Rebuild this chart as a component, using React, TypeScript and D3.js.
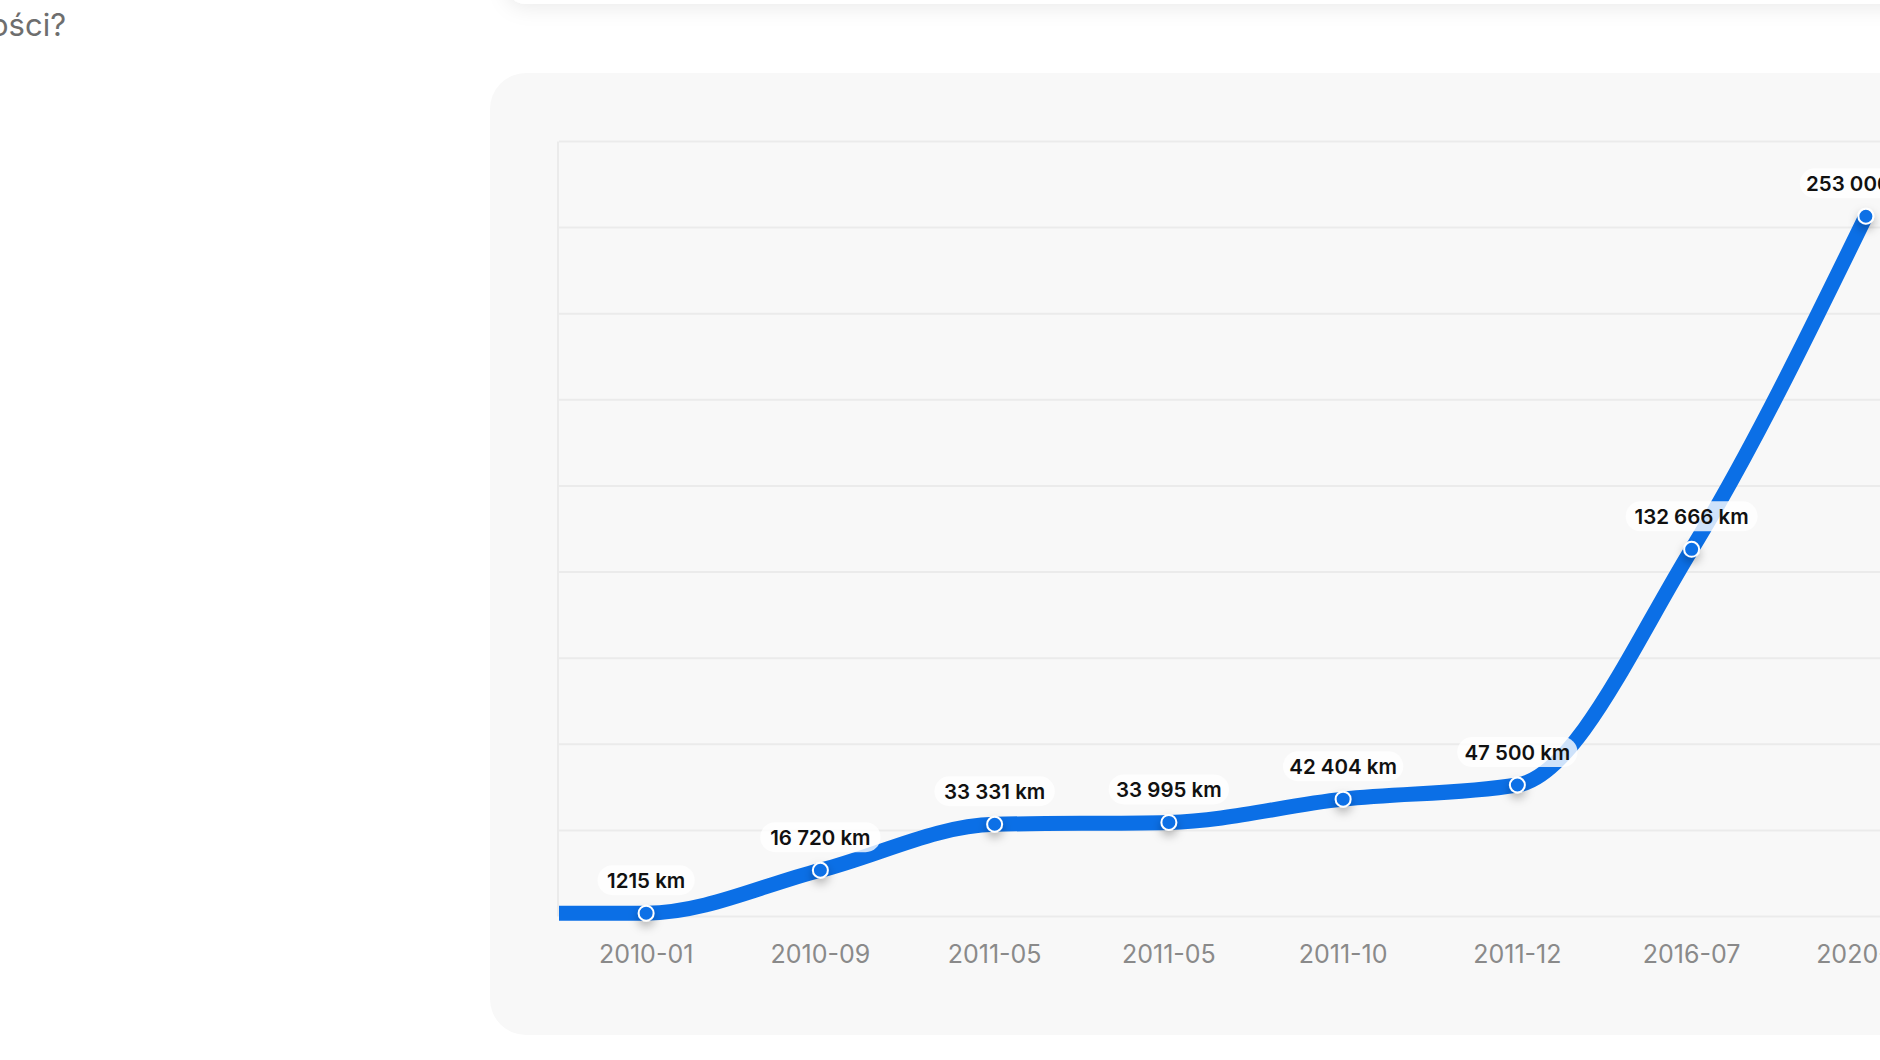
import { scaleBand, scaleLinear, line, curveMonotoneX, range } from "d3";

const months = ["2010-01", "2010-09", "2011-05", "2011-05", "2011-10", "2011-12", "2016-07", "2020-01"];
const distances = [1215, 16720, 33331, 33995, 42404, 47500, 132666, 253000];
const yMax = 280000;
const gridCount = 9;

const W = 1880;
const H = 1060;
const PLOT = { left: 559, right: 1953, top: 141.5, bottom: 916.5 };
const BLUE = "#0b6fe6";

// polish style: no grouping under 10 000
function fmtKm(v: number) {
  const s = String(v);
  if (v < 10000) return s + " km";
  return s.replace(/\B(?=(\d{3})+(?!\d))/g, " ") + " km";
}

export default function App() {
  const idx = months.map((_, i) => i);
  const xScale = scaleBand<number>().domain(idx).range([PLOT.left, PLOT.right]).padding(0);
  const cx = (i: number) => (xScale(i) as number) + xScale.bandwidth() / 2;
  const yScale = scaleLinear().domain([0, yMax]).range([PLOT.bottom, PLOT.top]);

  const pts: [number, number][] = [
    [PLOT.left, yScale(distances[0])],
    ...distances.map((d, i) => [cx(i), yScale(d)] as [number, number]),
  ];
  const path = line().curve(curveMonotoneX)(pts) || "";

  const gridVals = range(gridCount + 1).map((i) => (yMax / gridCount) * i);

  return (
    <div style={{ position: "fixed", left: 0, top: 0, width: W, height: H, overflow: "hidden", background: "#fff" }}>
      <svg width={W} height={H} style={{ display: "block", fontFamily: "Inter, 'Noto Sans', sans-serif" }}>
        <defs>
          <filter id="ptShadow" x="-150%" y="-150%" width="400%" height="400%">
            <feDropShadow dx="0" dy="5" stdDeviation="5" floodColor="#000" floodOpacity="0.28" />
          </filter>
          <filter id="cardShadow" x="-20%" y="-200%" width="140%" height="500%">
            <feDropShadow dx="0" dy="4" stdDeviation="10" floodColor="#000" floodOpacity="0.08" />
          </filter>
        </defs>

        {/* top card edge */}
        <rect x={506} y={-60} width={1500} height={64} rx={20} fill="#fff" filter="url(#cardShadow)" />

        <text x={66} y={36} fontSize={31} fill="#6e6e6e" textAnchor="end">
          ości?
        </text>

        {/* chart card */}
        <rect x={490} y={73} width={1600} height={962} rx={36} fill="#f8f8f8" />

        {/* grid */}
        {gridVals.map((v, i) => (
          <line key={i} x1={PLOT.left} x2={W} y1={yScale(v)} y2={yScale(v)} stroke="#ebebeb" strokeWidth={2} />
        ))}
        <line x1={PLOT.left - 1} x2={PLOT.left - 1} y1={PLOT.top} y2={PLOT.bottom} stroke="#ebebeb" strokeWidth={2} />

        {/* line */}
        <path d={path} fill="none" stroke={BLUE} strokeWidth={15} strokeLinejoin="round" />

        {/* points */}
        {distances.map((d, i) => (
          <circle key={i} cx={cx(i)} cy={yScale(d)} r={7.5} fill={BLUE} stroke="#fff" strokeWidth={2} filter="url(#ptShadow)" />
        ))}

        {/* labels */}
        {distances.map((d, i) => {
          const label = fmtKm(d);
          const w = label.length * 11.6 + 16;
          const y = yScale(d) - 33;
          return (
            <g key={i}>
              <rect x={cx(i) - w / 2} y={y - 15} width={w} height={30} rx={15} fill="#fff" fillOpacity={0.8} />
              <text x={cx(i)} y={y + 7.5} fontSize={20.5} fontWeight={600} fill="#111" textAnchor="middle">
                {label}
              </text>
            </g>
          );
        })}

        {/* x axis labels */}
        {months.map((m, i) => (
          <text key={i} x={cx(i)} y={963} fontSize={25} fill="#8a8a8a" textAnchor="middle">
            {m}
          </text>
        ))}
      </svg>
    </div>
  );
}
